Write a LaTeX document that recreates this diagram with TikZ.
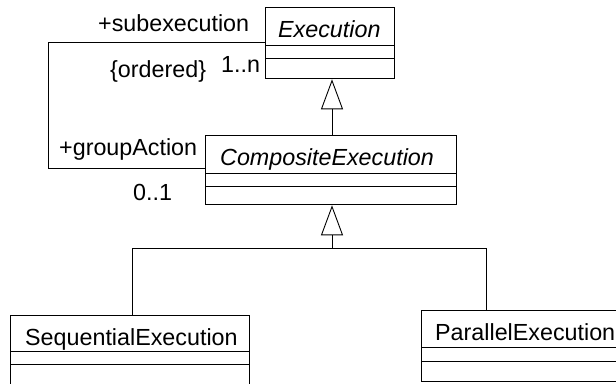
\documentclass[tikz,border=0pt]{standalone}
\usepackage{fontspec}
\setmainfont{Liberation Sans}
\usetikzlibrary{arrows.meta}
\tikzset{
  box/.style={draw, line width=1.3pt, rectangle, inner sep=0pt, anchor=north west},
  sep/.style={line width=1pt},
  conn/.style={line width=0.9pt},
  gen/.style={line width=0.9pt, -{Triangle[open, length=30pt, width=22pt, line width=0.9pt]}},
  lbl/.style={anchor=base west, inner sep=0pt, font=\fontsize{23.3}{27}\selectfont},
  ilbl/.style={lbl, font=\fontsize{23.3}{27}\selectfont\itshape}
}
\begin{document}
\begin{tikzpicture}[x=1pt, y=-1pt]
\useasboundingbox (0,0) rectangle (616,383);
% class boxes
\node[box, minimum width=129pt, minimum height=71pt] (exec) at (265,7) {};
\node[box, minimum width=251pt, minimum height=69pt] (comp) at (205,135) {};
\node[box, minimum width=239pt, minimum height=85pt] (seq) at (10,315) {};
\node[box, minimum width=210pt, minimum height=71pt] (par) at (421,310) {};
% compartments
\draw[sep] (exec.west |- 0,45) -- (exec.east |- 0,45);
\draw[sep] (exec.west |- 0,58) -- (exec.east |- 0,58);
\draw[sep] (comp.west |- 0,173) -- (comp.east |- 0,173);
\draw[sep] (comp.west |- 0,186) -- (comp.east |- 0,186);
\draw[sep] (seq.west |- 0,351) -- (seq.east |- 0,351);
\draw[sep] (seq.west |- 0,364) -- (seq.east |- 0,364);
\draw[sep] (par.west |- 0,347) -- (par.east |- 0,347);
\draw[sep] (par.west |- 0,361) -- (par.east |- 0,361);
% class names
\node[ilbl] (execname) at (278,37) {Execution};
\node[ilbl] (compname) at (220,165) {CompositeExecution};
\node[lbl] (seqname) at (25,345) {SequentialExecution};
\node[lbl] (parname) at (435,340) {ParallelExecution};
% association
\coordinate (a1) at (48,42);
\coordinate (a2) at (48,168);
\draw[conn] (a1 -| exec.west) -- (a1) -- (a2) -- (a2 -| comp.west);
\node[lbl] (subex) at (98,31) {+subexecution};
\node[lbl] (ord) at (110,77) {\{ordered\}};
\node[lbl] (mult1) at (221,72) {1..n};
\node[lbl] (grp) at (59,155) {+groupAction};
\node[lbl] (mult2) at (133,200) {0..1};
% generalizations
\coordinate (t1) at (332,0);
\draw[gen] (t1 |- comp.north) -- (t1 |- exec.south);
\coordinate (j) at (332,248);
\coordinate (js) at (132,248);
\coordinate (jp) at (486,248);
\draw[gen] (j) -- (j |- comp.south);
\draw[conn] (js |- seq.north) -- (js) -- (jp) -- (jp |- par.north);
\end{tikzpicture}
\end{document}
